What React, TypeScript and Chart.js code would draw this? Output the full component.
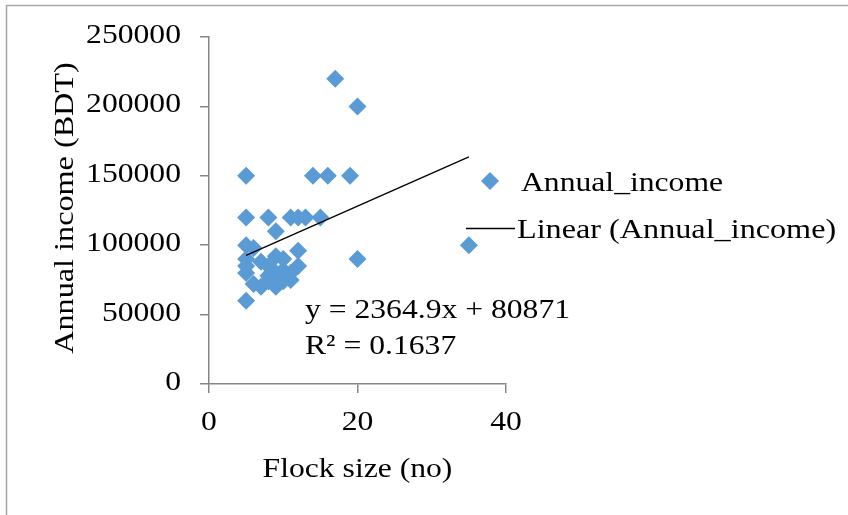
import React, { useEffect, useRef } from "react";
import { Chart, registerables } from "chart.js";

Chart.register(...registerables);

const flockSize = [17, 20, 5, 14, 16, 19, 5, 8, 11, 12, 13, 15, 9, 35, 20, 5, 6, 12, 5, 5, 5, 7, 9, 10, 8, 9, 12, 11, 6, 7, 9, 11, 8, 10, 5, 10, 8];
const annualIncome = [220000, 200000, 150000, 150000, 150000, 150000, 120000, 120000, 120000, 120000, 120000, 120000, 110000, 100000, 90000, 100000, 98000, 96000, 90000, 85000, 80000, 88000, 92000, 90000, 85000, 80000, 85000, 80000, 72000, 70000, 70000, 75000, 74000, 74000, 60000, 82000, 78000];

const trendX = [5, 35];
const trendY = [92696, 163643];

const xTicks = [0, 20, 40];
const yTicks = [0, 50000, 100000, 150000, 200000, 250000];

const seriesLabel = "Annual_income";
const trendLabel = "Linear (Annual_income)";
const equationText = "y = 2364.9x + 80871";
const r2Text = "R\u00B2 = 0.1637";
const xTitle = "Flock size (no)";
const yTitle = "Annual income (BDT)";

const FONT = '28px "Liberation Serif"';
const SX = 1.13;
const BLUE = "#5B9BD5";
const AXIS = "#868686";

function txt(ctx: CanvasRenderingContext2D, s: string, x: number, y: number, align: CanvasTextAlign, rot = 0, sx = SX) {
  ctx.save();
  ctx.translate(x, y);
  if (rot) ctx.rotate(rot);
  ctx.scale(sx, 1);
  ctx.font = FONT;
  ctx.fillStyle = "#000";
  ctx.textAlign = align;
  ctx.textBaseline = "alphabetic";
  ctx.fillText(s, 0, 0);
  ctx.restore();
}

const textPlugin = {
  id: "textPlugin",
  afterDraw(chart: any) {
    const ctx: CanvasRenderingContext2D = chart.ctx;
    const xs = chart.scales.x;
    const ys = chart.scales.y;
    ctx.save();
    ctx.strokeStyle = "#a6a6a6";
    ctx.lineWidth = 1.5;
    ctx.beginPath();
    ctx.moveTo(6.5, 515);
    ctx.lineTo(6.5, 5.5);
    ctx.lineTo(848, 5.5);
    ctx.stroke();
    ctx.restore();

    yTicks.forEach((v) => txt(ctx, String(v), 181, ys.getPixelForValue(v) + 6, "right"));
    xTicks.forEach((v) => txt(ctx, String(v), xs.getPixelForValue(v), 430, "center"));
    txt(ctx, xTitle, (xs.left + xs.right) / 2, 477, "center");
    txt(ctx, yTitle, 73, 208, "center", -Math.PI / 2, 1.15);

    ctx.save();
    ctx.fillStyle = BLUE;
    const lx = 490, ly = 181, r = 9;
    ctx.beginPath();
    ctx.moveTo(lx - r, ly);
    ctx.lineTo(lx, ly - r);
    ctx.lineTo(lx + r, ly);
    ctx.lineTo(lx, ly + r);
    ctx.closePath();
    ctx.fill();
    ctx.strokeStyle = "#000";
    ctx.lineWidth = 1.3;
    ctx.beginPath();
    ctx.moveTo(466, 228.5);
    ctx.lineTo(515, 228.5);
    ctx.stroke();
    ctx.restore();
    txt(ctx, seriesLabel, 521, 191, "left");
    txt(ctx, trendLabel, 517, 238, "left", 0, 1.15);

    txt(ctx, equationText, 305, 318, "left");
    txt(ctx, r2Text, 305, 354, "left");
  },
};

export default function App() {
  const ref = useRef<HTMLCanvasElement | null>(null);
  useEffect(() => {
    if (!ref.current) return;
    const scatterData = flockSize.map((x, i) => ({ x, y: annualIncome[i] }));
    const trendData = trendX.map((x, i) => ({ x, y: trendY[i] }));
    const chart = new Chart(ref.current, {
      type: "scatter",
      data: {
        datasets: [
          {
            label: trendLabel,
            data: trendData,
            showLine: true,
            borderColor: "#000",
            borderWidth: 1.3,
            pointRadius: 0,
            fill: false,
            order: 0,
          } as any,
          {
            label: seriesLabel,
            data: scatterData,
            pointStyle: "rectRot",
            pointRadius: 9,
            pointHoverRadius: 9,
            backgroundColor: BLUE,
            borderWidth: 0,
            order: 1,
          } as any,
        ],
      },
      options: {
        responsive: false,
        animation: false,
        devicePixelRatio: 1,
        events: [],
        layout: { padding: { top: 37, right: 342, left: 0, bottom: 0 } },
        plugins: { legend: { display: false }, tooltip: { enabled: false } },
        scales: {
          x: {
            type: "linear",
            min: 0,
            max: 40,
            ticks: { stepSize: 20, display: false },
            grid: { drawOnChartArea: false, drawTicks: true, tickLength: 9, color: AXIS, lineWidth: 1.5 },
            border: { color: AXIS, width: 1.5 },
            afterFit: (s: any) => { s.height = 131; },
          } as any,
          y: {
            type: "linear",
            min: 0,
            max: 250000,
            ticks: { stepSize: 50000, display: false },
            grid: { drawOnChartArea: false, drawTicks: true, tickLength: 9, color: AXIS, lineWidth: 1.5 },
            border: { color: AXIS, width: 1.5 },
            afterFit: (s: any) => { s.width = 209; },
          } as any,
        },
      },
      plugins: [textPlugin],
    });
    let alive = true;
    const fonts: any = (document as any).fonts;
    if (fonts && fonts.load) {
      fonts.load(FONT).then(() => { if (alive) chart.draw(); }).catch(() => {});
    }
    return () => { alive = false; chart.destroy(); };
  }, []);
  return (
    <div style={{ position: "fixed", left: 0, top: 0, width: 848, height: 515, background: "#fff" }}>
      <canvas ref={ref} width={848} height={515} style={{ display: "block" }} />
    </div>
  );
}
